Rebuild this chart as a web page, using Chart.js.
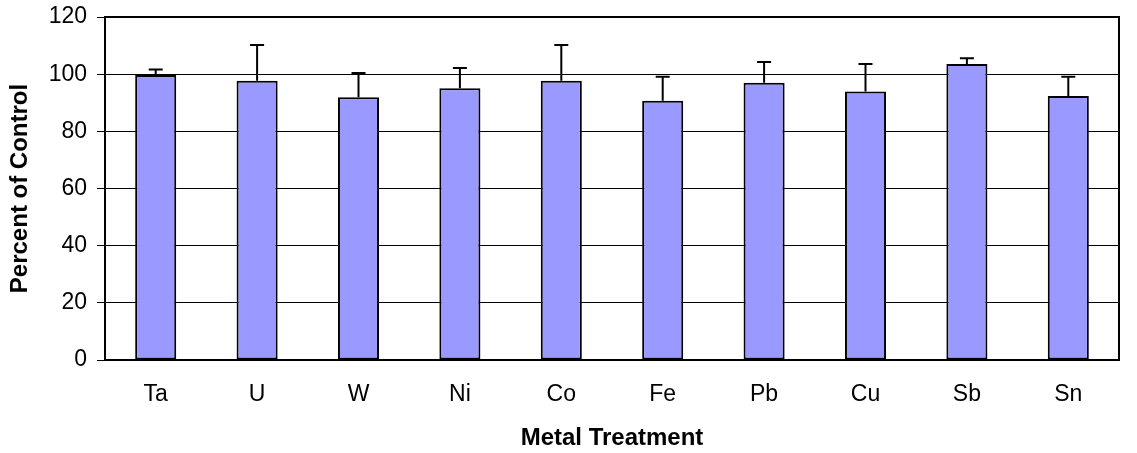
<!DOCTYPE html>
<html><head><meta charset="utf-8">
<script src="https://cdn.jsdelivr.net/npm/chart.js@4"></script>
<style>html,body{margin:0;padding:0;background:#fff}</style>
</head><body>
<canvas id="c" width="1137" height="453"></canvas>
<script>
const categories = ['Ta','U','W','Ni','Co','Fe','Pb','Cu','Sb','Sn'];
const percentOfControl = [99.7, 97.7, 91.9, 95.1, 97.7, 90.7, 97.0, 93.9, 103.6, 92.4];
const errorUp = [1.9, 12.5, 8.5, 7.1, 12.5, 8.4, 7.3, 9.7, 2.0, 6.7];
const yTicks = [0, 20, 40, 60, 80, 100, 120];

const FONT = "'Liberation Sans', Arial, sans-serif";

const frame = {
  id: 'frame',
  beforeDatasetsDraw(chart) {
    const {ctx, chartArea: a} = chart;
    ctx.save();
    ctx.strokeStyle = '#000';
    ctx.lineWidth = 2;
    ctx.strokeRect(a.left, a.top, a.right - a.left, a.bottom - a.top);
    ctx.restore();
  }
};

const errorBars = {
  id: 'errorBars',
  afterDatasetsDraw(chart) {
    const {ctx} = chart;
    const meta = chart.getDatasetMeta(0);
    const y = chart.scales.y;
    ctx.save();
    ctx.strokeStyle = '#000';
    ctx.lineWidth = 2;
    meta.data.forEach((bar, i) => {
      const v = percentOfControl[i];
      const top = y.getPixelForValue(v + errorUp[i]);
      const base = y.getPixelForValue(v);
      const cap = 7;
      ctx.beginPath();
      ctx.moveTo(bar.x, base);
      ctx.lineTo(bar.x, top);
      ctx.moveTo(bar.x - cap, top);
      ctx.lineTo(bar.x + cap, top);
      ctx.stroke();
    });
    ctx.restore();
  }
};

new Chart(document.getElementById('c'), {
  type: 'bar',
  data: {
    labels: categories,
    datasets: [{
      data: percentOfControl,
      backgroundColor: '#9999FF',
      borderColor: '#000',
      borderWidth: 2,
      borderSkipped: false,
      categoryPercentage: 1,
      barPercentage: 0.405
    }]
  },
  options: {
    responsive: false,
    animation: false,
    devicePixelRatio: 1,
    layout: { padding: { top: 17, right: 18, left: 0, bottom: 0 } },
    plugins: { legend: { display: false }, tooltip: { enabled: false } },
    scales: {
      x: {
        afterFit(s) { s.height = 93; s.paddingLeft = 0; s.paddingRight = 0; },
        grid: { display: false, drawTicks: false, tickLength: 0 },
        border: { display: false },
        ticks: { color: '#000', font: { family: FONT, size: 23 }, padding: 21, maxRotation: 0 },
        title: { display: true, text: 'Metal Treatment', color: '#000',
                 font: { family: FONT, size: 24, weight: 'bold' }, padding: { top: 0, bottom: 0 } }
      },
      y: {
        min: 0, max: 120,
        afterFit(s) { s.width = 105; s.paddingTop = 0; s.paddingBottom = 0; },
        afterBuildTicks(s) { s.ticks = yTicks.map(v => ({ value: v })); },
        grid: { color: '#000', lineWidth: 1, tickLength: 8, drawTicks: true },
        border: { display: false },
        ticks: { color: '#000', font: { family: FONT, size: 23 }, padding: 10 },
        title: { display: true, text: 'Percent of Control', color: '#000',
                 font: { family: FONT, size: 24, weight: 'bold' }, padding: { top: 6, bottom: 0 } }
      }
    }
  },
  plugins: [frame, errorBars]
});
</script>
</body></html>
